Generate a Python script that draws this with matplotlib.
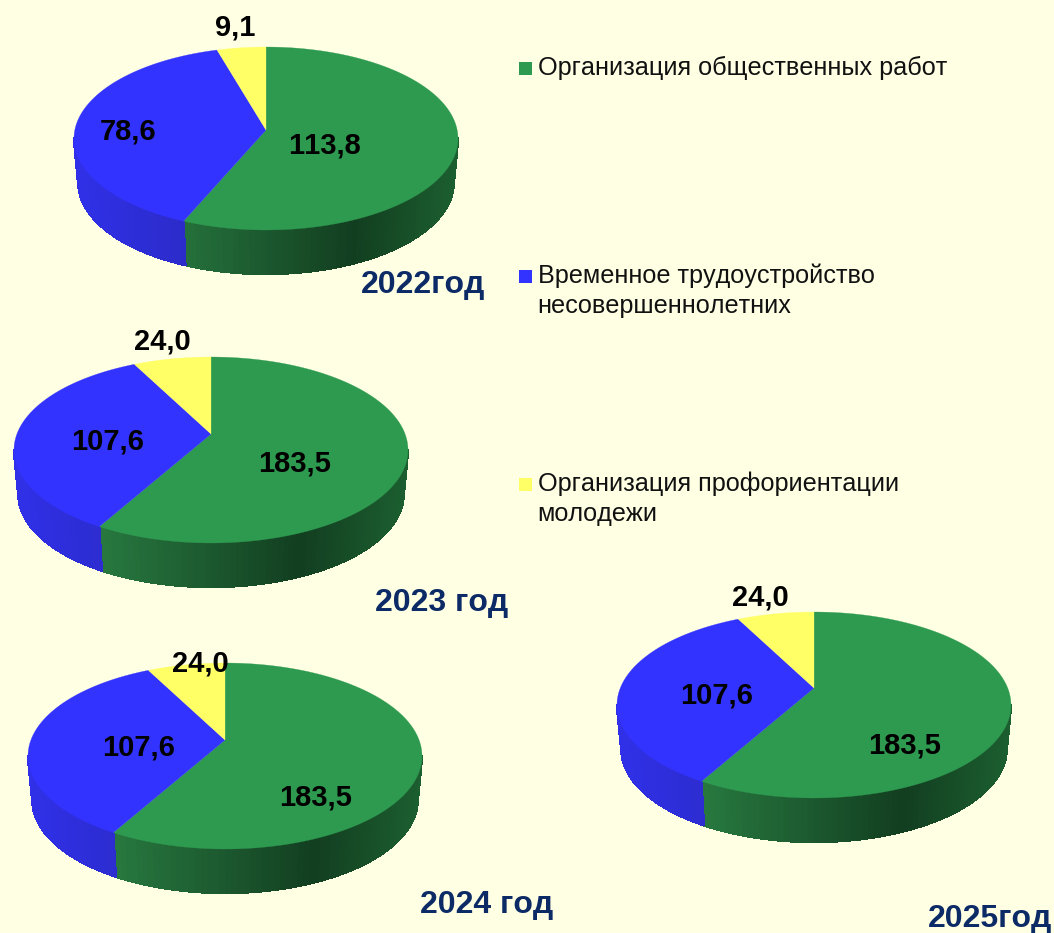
import numpy as np
import matplotlib
matplotlib.use("Agg")
import matplotlib.pyplot as plt
from matplotlib.collections import PolyCollection
from matplotlib.patches import Rectangle

plt.rcParams['font.family'] = ['Liberation Sans', 'DejaVu Sans']
plt.rcParams['text.kerning_factor'] = 6

years = ["2022год", "2023 год", "2024 год", "2025год"]
public_works = [113.8, 183.5, 183.5, 183.5]
teen_jobs = [78.6, 107.6, 107.6, 107.6]
career_guidance = [9.1, 24.0, 24.0, 24.0]
legend_labels = [
    "Организация общественных работ",
    "Временное трудоустройство\nнесовершеннолетних",
    "Организация профориентации\nмолодежи",
]

BG = "#FFFFE4"
TOP_COLORS = ["#2E9A50", "#3333FF", "#FFFF66"]

# cx, cy, rx, ry, apex offset in y, depth
pies = [
    (266, 138.5, 192, 91.5, -8.5, 44),
    (211, 450, 197, 93, -16, 44),
    (225, 756, 197, 93, -16, 44),
    (814, 705, 197, 93, -17, 44),
]
value_pos = [
    [(324, 145), (128, 132), (235, 27)],
    [(295, 464), (108, 441), (162, 342)],
    [(316, 797), (139, 747), (200, 663)],
    [(905, 746), (717, 696), (760, 597)],
]
year_pos = [(423, 285), (442, 603), (487, 905), (990, 919)]


def rim_angle(theta, a):
    # the apex sits off the ellipse centre, so walk along the ray to the rim
    dx, dy = np.sin(theta), -np.cos(theta)
    b = a * dy
    t = -b + np.sqrt(b * b - (a * a - 1))
    px, py = t * dx, a + t * dy
    return np.arctan2(px, -py) % (2 * np.pi)


def lerp(c1, c2, f):
    c1 = np.array(matplotlib.colors.to_rgb(c1))
    c2 = np.array(matplotlib.colors.to_rgb(c2))
    return tuple(c1 + (c2 - c1) * f)


def side_color(i, phi):
    s = np.sin(phi)
    if i == 0:
        # dark band sits right of the middle, lighter at both ends
        if s < 0.45:
            f = np.clip((s + 0.55) / 1.0, 0, 1)
            return lerp("#27773F", "#123E20", f)
        f = np.clip((s - 0.45) / 0.55, 0, 1)
        return lerp("#123E20", "#1C5F30", f)
    if i == 1:
        return lerp("#3030E8", "#2B2BC8", np.clip((s + 1) / 0.6, 0, 1))
    return "#B8B83C"


def draw_pie(ax, geom, values):
    cx, cy, rx, ry, off, depth = geom
    a = off / ry
    total = sum(values)
    bounds = np.concatenate([[0], np.cumsum(values) / total * 2 * np.pi])
    rims = [rim_angle(t, a) for t in bounds[:-1]] + [2 * np.pi]

    quads, cols = [], []
    for i in range(len(values)):
        lo, hi = rims[i], rims[i + 1]
        phis = np.linspace(max(lo, np.pi / 2), min(hi, 3 * np.pi / 2), 70)
        if phis[-1] <= phis[0]:
            continue
        for p1, p2 in zip(phis[:-1], phis[1:]):
            quads.append([
                (cx + rx * np.sin(p1), cy - ry * np.cos(p1)),
                (cx + rx * np.sin(p2), cy - ry * np.cos(p2)),
                (cx + 0.978 * rx * np.sin(p2), cy + depth - ry * np.cos(p2)),
                (cx + 0.978 * rx * np.sin(p1), cy + depth - ry * np.cos(p1)),
            ])
            cols.append(side_color(i, (p1 + p2) / 2))
    ax.add_collection(PolyCollection(quads, facecolors=cols, edgecolors=cols,
                                     linewidths=1.0, antialiaseds=False))

    for i in range(len(values)):
        phis = np.linspace(rims[i], rims[i + 1], 200)
        xs = np.concatenate([[cx], cx + rx * np.sin(phis)])
        ys = np.concatenate([[cy + off], cy - ry * np.cos(phis)])
        ax.fill(xs, ys, facecolor=TOP_COLORS[i], edgecolor=TOP_COLORS[i], linewidth=0.2)


fig = plt.figure(figsize=(10.54, 9.33), dpi=100, facecolor=BG)
ax = fig.add_axes([0, 0, 1, 1])
ax.set_xlim(0, 1054)
ax.set_ylim(933, 0)
ax.axis("off")

for k, geom in enumerate(pies):
    vals = [public_works[k], teen_jobs[k], career_guidance[k]]
    draw_pie(ax, geom, vals)
    for v, (x, y) in zip(vals, value_pos[k]):
        ax.text(x, y, f"{v:.1f}".replace(".", ","), ha="center", va="center",
                fontsize=21, fontweight="bold", color="black")
    ax.text(year_pos[k][0], year_pos[k][1], years[k], ha="center", va="center",
            fontsize=23, fontweight="bold", color="#0B2A66")

legend_y = [68, 276, 484]
for label, y, col in zip(legend_labels, legend_y, TOP_COLORS):
    ax.add_patch(Rectangle((519, y - 6), 13, 13, facecolor=col, edgecolor="none"))
    ax.text(537.5, y - 12, label, ha="left", va="top", fontsize=18.15, color="#111111", linespacing=1.28)

fig.savefig("out.png", dpi=100, facecolor=BG)
